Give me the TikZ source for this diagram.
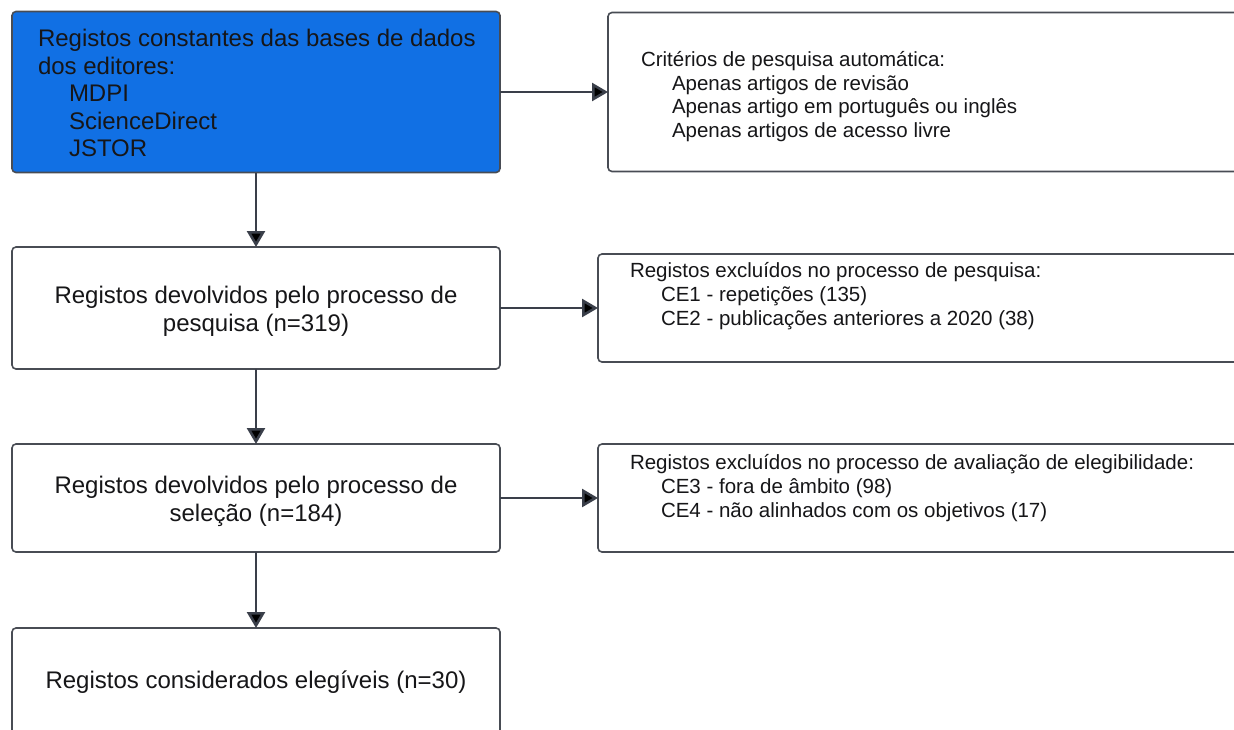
\documentclass[tikz,border=0pt]{standalone}
\usepackage{fontspec}
\setmainfont{Liberation Sans}
\usetikzlibrary{positioning,calc,arrows.meta}
\definecolor{boxblue}{RGB}{17,112,228}
\definecolor{edgegray}{RGB}{72,76,84}
\definecolor{arrowgray}{RGB}{58,63,74}
\definecolor{inkblack}{RGB}{22,22,24}

\begin{document}
\begin{tikzpicture}[x=1pt,y=1pt]
    \tikzstyle{every node}=[inner sep=0,outer sep=0,text=inkblack]
    \tikzstyle{box}=[rectangle,draw=edgegray,line width=1.6,rounded corners=4,fill=white]
    \tikzstyle{big}=[font=\fontsize{24}{28}\selectfont,align=center]
    \tikzstyle{small}=[font=\fontsize{20.5}{23.8}\selectfont,align=left]
    \tikzstyle{flow}=[-{Triangle[length=16pt,width=18pt]},line width=2.6,draw=arrowgray]
    {
        \useasboundingbox (0,0) rectangle (1234,-729);
        \clip (0,0) rectangle (1234,-729);

        % left column
        \node[box,fill=boxblue,minimum width=488,minimum height=161] (src) at (256,-92) {};
        \node[box,big,minimum width=488,minimum height=122] (ret) at (256,-308)
            {\rule{0pt}{24.5pt}Registos devolvidos pelo processo de\\pesquisa (n=319)};
        \node[box,big,minimum width=488,minimum height=108] (sel) at (256,-498)
            {\rule{0pt}{24.5pt}Registos devolvidos pelo processo de\\sele\c{c}\~ao (n=184)};
        \node[box,big,minimum width=488,minimum height=108] (elig) at (256,-682)
            {Registos considerados eleg\'iveis (n=30)};

        % right column, running off the page
        \node[box,minimum width=660,minimum height=159] (crit) at (938,-92) {};
        \node[box,minimum width=670,minimum height=108] (excl1) at (933,-308) {};
        \node[box,minimum width=670,minimum height=108] (excl2) at (933,-498) {};

        \node[font=\fontsize{24}{27.6}\selectfont,align=left,anchor=north west,
              below right=13pt and 26pt of src.north west] (srctxt)
            {\rule{0pt}{22pt}Registos constantes das bases de dados\\
             dos editores:\\
             \hspace*{31pt}MDPI\\
             \hspace*{31pt}ScienceDirect\\
             \hspace*{31pt}JSTOR};
        \node[small,anchor=north west,below right=33.7pt and 33pt of crit.north west] (crittxt)
            {\rule{0pt}{20pt}Crit\'erios de pesquisa autom\'atica:\\
             \hspace*{31pt}Apenas artigos de revis\~ao\\
             \hspace*{31pt}Apenas artigo em portugu\^es ou ingl\^es\\
             \hspace*{31pt}Apenas artigos de acesso livre};
        \node[small,anchor=north west,below right=3.5pt and 32pt of excl1.north west] (excl1txt)
            {\rule{0pt}{20pt}Registos exclu\'idos no processo de pesquisa:\\
             \hspace*{31pt}CE1 - repeti\c{c}\~oes (135)\\
             \hspace*{31pt}CE2 - publica\c{c}\~oes anteriores a 2020 (38)};
        \node[small,anchor=north west,below right=5.5pt and 32pt of excl2.north west] (excl2txt)
            {\rule{0pt}{20pt}Registos exclu\'idos no processo de avalia\c{c}\~ao de elegibilidade:\\
             \hspace*{31pt}CE3 - fora de \^ambito (98)\\
             \hspace*{31pt}CE4 - n\~ao alinhados com os objetivos (17)};

        \path[flow]
            (src) edge (ret)
            (ret) edge (sel)
            (sel) edge (elig)
            (src) edge (crit)
            (ret) edge (excl1)
            (sel) edge (excl2);
    }
\end{tikzpicture}
\end{document}
